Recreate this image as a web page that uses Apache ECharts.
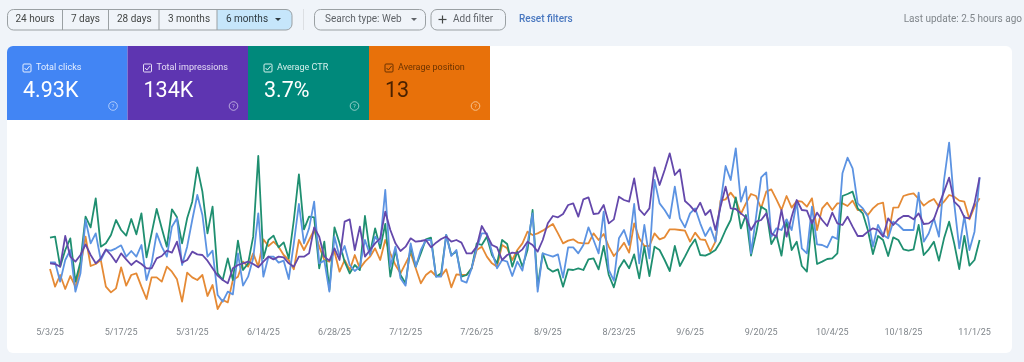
<!DOCTYPE html>
<html>
<head>
<meta charset="utf-8">
<style>html,body{margin:0;padding:0;background:#f0f4f9}#c{width:1024px;height:362px;filter:blur(0.3px)}</style>
<script src="https://cdn.jsdelivr.net/npm/echarts@6/dist/echarts.min.js"></script>
</head>
<body>
<div id="c"></div>
<script>
// Daily values, on a shared normalised scale (the original has no visible value axis).
const startDate = [2025, 4, 3];
const dayCount = 184;
const labelEveryDays = 14;
const clicks = [203,203,145,210,240,115,170,330,260,290,210,240,238,245,254,220,237,220,255,150,200,290,250,220,310,335,195,250,330,405,
345,220,238,105,85,115,107,230,133,160,215,350,160,220,220,202,208,153,260,378,260,305,385,200,208,115,280,220,252,195,177,190,
270,225,280,260,420,190,250,155,133,260,190,240,270,270,160,160,285,222,240,148,142,185,245,290,290,235,185,210,205,162,205,178,
260,350,115,230,225,220,227,157,248,248,230,255,308,270,230,355,180,148,275,300,255,378,200,315,215,450,380,360,335,
430,335,308,350,365,320,282,308,265,380,492,450,545,385,430,230,340,458,473,280,305,300,332,300,385,245,230,370,257,255,248,280,273,
470,517,485,380,365,340,250,315,285,275,325,315,300,300,300,412,265,290,335,280,450,562,380,245,342,240,295,458];
const impressions = [200,198,190,282,220,205,225,257,225,200,215,242,225,203,230,212,195,208,198,185,185,215,222,238,232,265,202,210,235,227,
225,208,185,163,150,140,185,195,200,205,198,188,205,220,212,220,218,200,190,220,220,230,308,280,220,208,245,210,325,332,240,310,
220,240,260,275,355,300,260,237,250,275,265,267,270,248,262,273,280,265,270,262,230,230,250,312,285,255,248,210,225,232,230,242,
265,255,235,270,320,342,338,348,375,380,340,392,398,348,350,375,320,332,400,390,385,455,362,345,365,488,435,480,530,
465,482,387,373,355,382,345,360,300,370,430,365,363,350,338,300,325,330,350,290,280,360,280,340,390,360,358,320,352,330,312,352,320,
315,340,310,282,282,295,305,300,280,335,315,332,342,342,332,350,318,320,332,375,415,457,385,370,338,335,380,458];
const ctr = [277,280,190,240,275,145,205,340,308,395,250,260,285,330,300,283,333,287,350,218,290,363,305,250,362,338,260,335,385,488,
415,290,370,170,150,215,150,268,180,200,280,522,215,270,283,248,263,215,330,467,302,340,338,185,265,120,308,260,205,170,195,180,
342,230,305,245,318,160,240,165,140,250,190,230,272,277,160,170,285,225,235,160,165,185,260,255,280,225,200,270,258,190,235,190,
240,360,130,230,185,175,182,130,182,180,185,180,212,215,182,252,165,128,185,210,185,227,155,250,162,250,240,210,177,252,192,220,250,272,225,223,230,240,265,300,330,398,
305,345,223,290,370,360,258,285,223,330,240,265,192,175,330,198,205,213,215,230,
402,408,415,365,350,300,228,282,270,222,278,270,242,238,242,315,225,242,265,208,275,325,260,183,282,193,210,270];
const position = [183,130,165,123,162,130,190,280,192,198,210,130,113,125,188,133,165,170,130,93,158,158,145,190,175,152,85,172,158,150,
165,102,135,63,90,83,150,160,205,190,230,190,272,252,265,250,225,210,182,270,240,270,300,250,210,205,235,175,210,180,225,185,
205,220,245,210,270,230,195,170,200,230,185,140,165,177,162,162,182,128,167,165,165,185,240,250,220,200,190,255,245,210,240,260,
295,285,290,298,308,318,290,260,268,272,262,260,260,290,270,288,250,222,240,262,232,320,275,252,252,290,272,278,302,
302,300,298,265,292,272,270,235,265,388,392,412,392,348,380,408,402,365,415,422,392,360,402,367,387,385,370,395,300,365,382,360,380,
380,372,388,360,360,345,365,378,382,280,367,368,402,407,410,393,373,385,393,370,385,405,400,388,385,332,370,395];
const rangeLabels = ['24 hours','7 days','28 days','3 months','6 months'];
const cardTitles = ['Total clicks','Total impressions','Average CTR','Average position'];
const cardValues = ['4.93K','134K','3.7%','13'];

const categories = [];
for (let i = 0; i < dayCount; i++) {
  const d = new Date(startDate[0], startDate[1], startDate[2] + i);
  categories.push((d.getMonth() + 1) + '/' + d.getDate() + '/' + String(d.getFullYear()).slice(2));
}

const FONT = 'Roboto, sans-serif';
const g = [];
function rect(x, y, w, h, fill, r, stroke) {
  g.push({type:'rect', silent:true, shape:{x, y, width:w, height:h, r:r||0}, style:{fill, stroke:stroke||null, lineWidth:stroke?1:0}});
}
function line(x1, y1, x2, y2, stroke, w) {
  g.push({type:'line', silent:true, shape:{x1, y1, x2, y2}, style:{stroke, lineWidth:w||1}});
}
function text(t, x, y, size, fill, opt) {
  g.push({type:'text', silent:true, x, y, style:{text:t, fill, font:(opt&&opt.weight||400)+' '+size+'px '+FONT, textAlign:opt&&opt.align||'left', textVerticalAlign:'middle', verticalAlign:'middle'}});
}
function caret(x, y, fill) {
  g.push({type:'polygon', silent:true, shape:{points:[[x-3,y-1.5],[x+3,y-1.5],[x,y+1.5]]}, style:{fill}});
}

// White panel
rect(7, 46, 1005, 307, '#ffffff', 6);

// Range buttons
const btnEdges = [7, 62.5, 108.5, 159, 217, 292];
const bf = 'rgb(68,71,70)';
rect(217, 9.5, 75, 20.5, '#c6e6fb', [0,6,6,0]);
rect(7.5, 9.5, 284.5, 20.5, 'transparent', 6, '#9aa0a3');
btnEdges.slice(1, 4).forEach(x => line(x, 9.5, x, 30, '#9aa0a3'));
line(217, 9.5, 217, 30, '#9aa0a3');
const btnTextX = [15.5, 71, 117, 168, 226];
rangeLabels.forEach((t, i) => text(t, btnTextX[i], 19.5, 10, i === 4 ? '#2f3a40' : bf));
caret(278, 19.5, '#2f3a40');

// Divider and filter chips
line(303.5, 9, 303.5, 30, '#dcdfe3');
rect(314.5, 9.5, 111, 20.5, 'transparent', 6, '#9aa0a3');
text('Search type: Web', 325, 19.5, 10, '#5f6368');
caret(414, 19.5, '#5f6368');
rect(431, 9.5, 74.5, 20.5, 'transparent', 6, '#9aa0a3');
line(438.5, 19.5, 446.5, 19.5, '#444746', 1.2);
line(442.5, 15.5, 442.5, 23.5, '#444746', 1.2);
text('Add filter', 453, 19.5, 10, '#5f6368');
text('Reset filters', 519, 19.5, 10, '#4a78c0', {weight:500});
text('Last update: 2.5 hours ago', 1022, 19.5, 10, '#80868b', {align:'right'});

// Metric cards
const cardX = [7, 127.5, 248, 369, 490];
const cardFill = ['#4285f4', '#5e35b1', '#00897b', '#e8710a'];
const cardFg = ['#ffffff', '#ffffff', '#ffffff', '#4a2100'];
const cardSub = ['#e6efff', '#e4dcf5', '#d5f0ec', '#6b3300'];
cardTitles.forEach((t, i) => {
  const x = cardX[i], w = cardX[i+1] - x;
  rect(x, 46, w, 74, cardFill[i], i === 0 ? [6,0,0,0] : 0);
  const bx = x + 16;
  rect(bx, 64, 8, 8, 'transparent', 1, cardSub[i]);
  g.push({type:'polyline', silent:true, shape:{points:[[bx+1.6,68],[bx+3.4,70],[bx+6.6,66]]}, style:{stroke:cardSub[i], lineWidth:1, fill:null}});
  text(t, x + 29, 67.5, 9, cardSub[i]);
  text(cardValues[i], x + 16, 91.5, 21.5, cardFg[i]);
  const ix = x + w - 14.5;
  g.push({type:'circle', silent:true, shape:{cx:ix, cy:106, r:4.3}, style:{fill:'transparent', stroke:i===3?'#f6c28e':'rgba(255,255,255,0.55)', lineWidth:1}});
  text('?', ix, 106.3, 6, i===3?'#f6c28e':'rgba(255,255,255,0.6)', {align:'center'});
});

const seriesDefs = [
  {name:'Average position', data:position, color:'#e58a35'},
  {name:'Average CTR', data:ctr, color:'#1f8f70'},
  {name:'Total clicks', data:clicks, color:'#5c93e2'},
  {name:'Total impressions', data:impressions, color:'#6448ab'}
];

const chart = echarts.init(document.getElementById('c'), null, {renderer:'canvas'});
chart.setOption({
  animation:false,
  backgroundColor:'#f0f4f9',
  graphic:{elements:g},
  grid:{left:50, width:929.6, top:130, height:190, containLabel:false},
  xAxis:{
    type:'category', data:categories, boundaryGap:false,
    axisLine:{show:false}, axisTick:{show:false}, splitLine:{show:false},
    axisLabel:{interval:i => i % labelEveryDays === 0, margin:8, fontSize:9, fontFamily:FONT, color:'#80868b', hideOverlap:false}
  },
  yAxis:{type:'value', min:30, max:600, show:false, splitLine:{show:false}},
  series:seriesDefs.map(s => ({
    type:'line', name:s.name, data:s.data, showSymbol:false, smooth:false,
    lineStyle:{color:s.color, width:1.8, join:'round'}, itemStyle:{color:s.color}, z:3
  }))
});
</script>
</body>
</html>
